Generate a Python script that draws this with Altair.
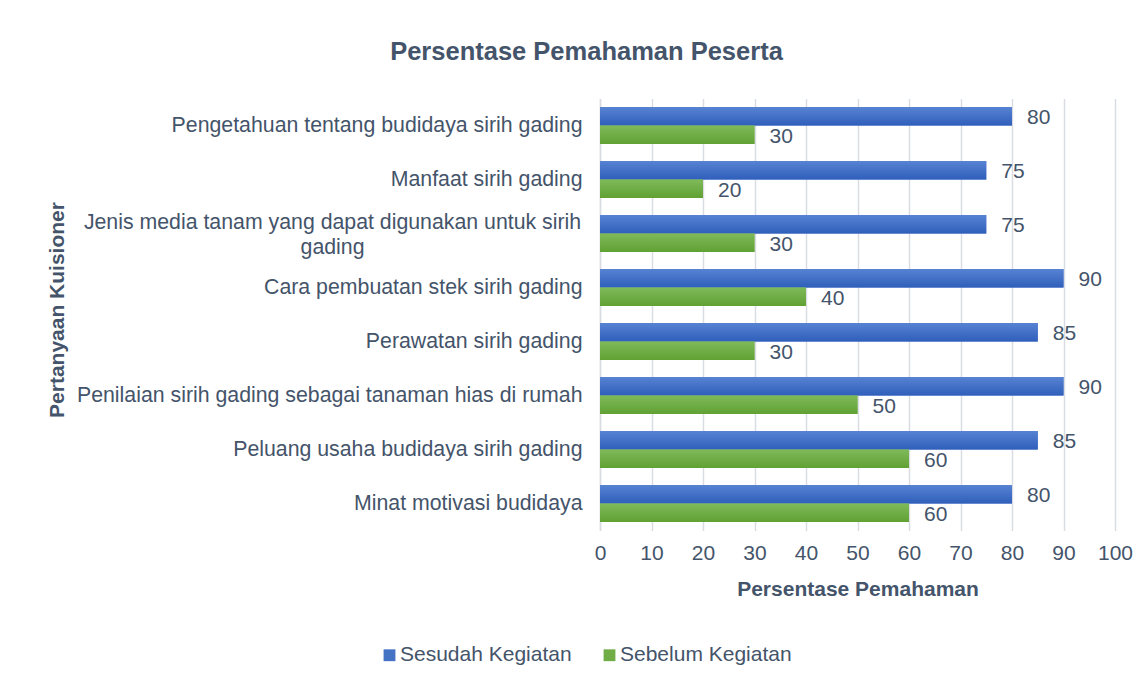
import altair as alt
import pandas as pd

categories = [
    "Pengetahuan tentang budidaya sirih gading",
    "Manfaat sirih gading",
    "Jenis media tanam yang dapat digunakan untuk sirih gading",
    "Cara pembuatan stek sirih gading",
    "Perawatan sirih gading",
    "Penilaian sirih gading sebagai tanaman hias di rumah",
    "Peluang usaha budidaya sirih gading",
    "Minat motivasi budidaya",
]
series = ["Sesudah Kegiatan", "Sebelum Kegiatan"]
sesudah = [80, 75, 75, 90, 85, 90, 85, 80]
sebelum = [30, 20, 30, 40, 30, 50, 60, 60]
x_ticks = [0, 10, 20, 30, 40, 50, 60, 70, 80, 90, 100]

rows = []
for c, a, b in zip(categories, sesudah, sebelum):
    rows.append({"q": c, "series": series[0], "v": a})
    rows.append({"q": c, "series": series[1], "v": b})
df = pd.DataFrame(rows)

FONT = "Liberation Sans"
TXT = "#44546A"
WRAP = categories[2]
test = "datum.value == '" + WRAP + "'"

label_expr = (
    test + " ? ['Jenis media tanam yang dapat digunakan untuk sirih', 'gading'] : datum.value"
)

y_enc = alt.Y(
    "q:N",
    sort=categories,
    scale=alt.Scale(paddingInner=0.315, paddingOuter=0.1575),
    axis=alt.Axis(
        title="Pertanyaan Kuisioner",
        titleFont=FONT, titleFontSize=21, titleFontWeight="bold", titleColor=TXT,
        titleAngle=-90, titleX=-537, titleY=211, titleAlign="center",
        titleBaseline="alphabetic",
        labelFont=FONT, labelFontSize=21.3, labelColor=TXT,
        labelPadding={"condition": {"test": test, "value": 268}, "value": 18},
        labelAlign={"condition": {"test": test, "value": "center"}, "value": "right"},
        labelOffset={"condition": {"test": test, "value": -11}, "value": 0},
        labelLimit=600, labelLineHeight=25, labelExpr=label_expr,
        ticks=False, domain=True, domainColor="#d9dde3", domainWidth=1.5,
        grid=False,
    ),
)
yoff = alt.YOffset("series:N", sort=series, scale=alt.Scale(domain=series, paddingInner=0, paddingOuter=0))
x_enc = alt.X(
    "v:Q",
    scale=alt.Scale(domain=[0, 100], nice=False),
    axis=alt.Axis(
        values=x_ticks,
        title="Persentase Pemahaman",
        titleFont=FONT, titleFontSize=21, titleFontWeight="bold", titleColor=TXT,
        titleY=65, titleBaseline="alphabetic",
        labelFont=FONT, labelFontSize=21, labelColor=TXT, labelPadding=12,
        labelFlush=False,
        ticks=False, domain=False,
        grid=True, gridColor="#d9dde3", gridWidth=1.5,
    ),
)

bars = alt.Chart(df).mark_bar().encode(
    y=y_enc,
    yOffset=yoff,
    x=x_enc,
    color=alt.Color(
        "series:N",
        sort=series,
        scale=alt.Scale(domain=series, range=["#4472C4", "#70AD47"]),
        legend=alt.Legend(
            title=None, orient="none", direction="horizontal",
            legendX=-221, legendY=546,
            symbolType="square", symbolSize=140, symbolStrokeWidth=0,
            labelFont=FONT, labelFontSize=21, labelColor=TXT, labelOffset=0,
            labelLimit=400, columnPadding=27,
        ),
    ),
)


def grad(top, bottom):
    return alt.Gradient(
        gradient="linear",
        stops=[alt.GradientStop(color=top, offset=0), alt.GradientStop(color=bottom, offset=1)],
        x1=0, x2=0, y1=0, y2=1,
    )


shade_blue = alt.Chart(df).transform_filter(
    alt.datum.series == series[0]
).mark_bar(color=grad("#5883d3", "#2f5fbb")).encode(
    y=alt.Y("q:N", sort=categories), yOffset=yoff, x=alt.X("v:Q")
)
shade_green = alt.Chart(df).transform_filter(
    alt.datum.series == series[1]
).mark_bar(color=grad("#7fba5a", "#60a133")).encode(
    y=alt.Y("q:N", sort=categories), yOffset=yoff, x=alt.X("v:Q")
)

labels = alt.Chart(df).mark_text(
    align="left", baseline="middle", dx=15, dy=2, font=FONT, fontSize=21, color=TXT
).encode(
    y=alt.Y("q:N", sort=categories),
    yOffset=yoff,
    x=alt.X("v:Q"),
    text=alt.Text("v:Q"),
)

chart = alt.layer(bars, shade_blue, shade_green, labels).properties(
    width=515,
    height=432,
    background="white",
    autosize=alt.AutoSizeParams(type="none"),
    padding={"left": 592, "top": 90.5, "right": 20, "bottom": 136},
    title=alt.TitleParams(
        "Persentase Pemahaman Peserta",
        font=FONT, fontSize=25.5, fontWeight="bold", color=TXT,
        anchor="middle", dx=-271, offset=13, baseline="alphabetic",
    ),
).configure_view(stroke=None)

chart.save("out.html", embed_options={"renderer": "svg", "actions": False})
